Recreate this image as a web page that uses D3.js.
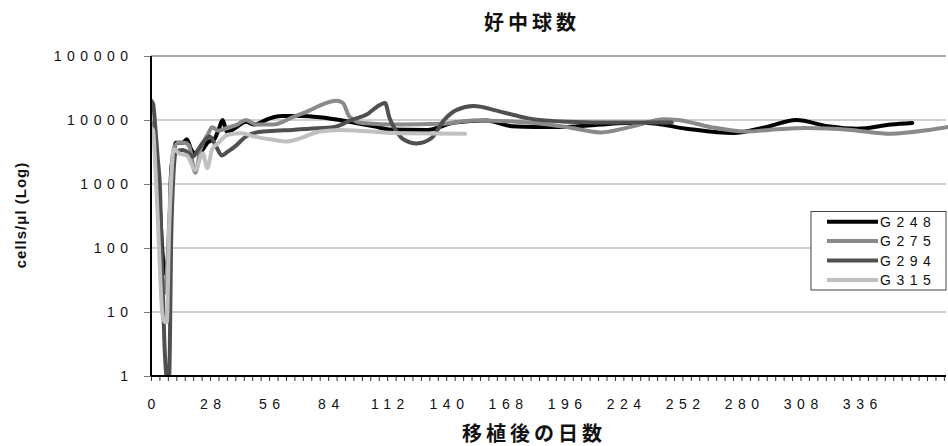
<!DOCTYPE html>
<html>
<head>
<meta charset="utf-8">
<script src="https://cdn.jsdelivr.net/npm/d3@7"></script>
<style>
  body { margin: 0; background: #fff; }
  .num { font-family: "Liberation Sans", Arial, sans-serif; font-size: 14px; letter-spacing: 5.5px; fill: #111; }
  .jpTitle { font-family: "Noto Sans CJK JP", sans-serif; font-size: 20px; font-weight: bold; letter-spacing: 4px; fill: #111; }
  .axisText { font-family: "Liberation Sans", Arial, sans-serif; font-size: 15px; font-weight: bold; letter-spacing: 1px; fill: #111; }
</style>
</head>
<body>
<div class="chart"></div>
<script>
// chart values
var seriesNames = ["G248", "G275", "G294", "G315"];
var seriesColors = ["#000000", "#8a8a8a", "#505050", "#c0c0c0"];

var daysG248 = [0, 2, 4, 5.5, 6.5, 8.5, 9.5, 10.7, 11.8, 15, 17, 19, 21, 24, 27, 30, 32, 34, 36, 40, 45, 49, 56, 62, 71, 80, 94, 107, 113, 131, 144, 159, 171, 182, 197, 213, 225, 235, 254, 276, 292, 306, 321, 335, 351, 361];
var cellsG248 = [9000, 5000, 600, 80, 40, 100, 1500, 3000, 4400, 4400, 5000, 3500, 3000, 3300, 4500, 5000, 7000, 10000, 6500, 7500, 9400, 8500, 10500, 11500, 11500, 11000, 9400, 7800, 7100, 7000, 9100, 9800, 8000, 7800, 7800, 8500, 9000, 9000, 7300, 6250, 7800, 10000, 8000, 7300, 8500, 9000];

var daysG275 = [0, 2, 4, 5.5, 6.5, 8.5, 9.5, 10.7, 13, 16, 18, 21, 23.5, 27, 29, 32, 36, 41, 45, 50, 58, 67, 75, 80, 88, 91, 94, 100, 118, 137, 153, 169, 182, 197, 213, 223, 230, 243, 250, 265, 282, 293, 311, 332, 351, 369, 378];
var cellsG275 = [9000, 4000, 300, 25, 20, 200, 1200, 3500, 4400, 4400, 4000, 1500, 3500, 6000, 7700, 6800, 7500, 8500, 10000, 8500, 8500, 11000, 14000, 16800, 19900, 18500, 11400, 9000, 8500, 8700, 9800, 9600, 9000, 7800, 6400, 7200, 8200, 10300, 10000, 7800, 6600, 7000, 7500, 7000, 6100, 7000, 7800];

var daysG294 = [0, 1, 2, 3.2, 4.3, 5.3, 6.4, 7.5, 8.6, 9.6, 10.7, 11.8, 15, 17, 20, 22.5, 24.6, 27.8, 31, 33.5, 36.4, 39.6, 45, 51, 59, 67, 75, 87, 95, 103, 107, 111, 113, 116, 120, 126, 133, 139, 145, 153, 166, 179, 197, 223, 247];
var cellsG294 = [20000, 18000, 8000, 2500, 800, 40, 3, 1, 1, 150, 1500, 3200, 3400, 3200, 2700, 3500, 4400, 5500, 3800, 2800, 3200, 3800, 5500, 6500, 6800, 7000, 7300, 7800, 10000, 12600, 16000, 18500, 11000, 7000, 4900, 4300, 5200, 10000, 14400, 16500, 13400, 10600, 9400, 9100, 9100];

var daysG315 = [0, 1, 2, 3.2, 4.3, 5.3, 6.4, 7.5, 8.6, 9.6, 10.7, 13.4, 17, 21, 24.6, 26.7, 29, 32, 36.4, 43, 49, 58, 64, 71, 80, 90, 118, 149];
var cellsG315 = [7500, 7000, 2000, 300, 40, 10, 7, 7, 200, 1200, 3500, 3000, 2800, 1650, 3000, 1770, 3500, 4400, 5900, 6200, 5500, 4900, 4600, 5200, 6600, 7000, 6200, 6100];

var xTickLabels = [0, 28, 56, 84, 112, 140, 168, 196, 224, 252, 280, 308, 336];
var yTickLabels = [1, 10, 100, 1000, 10000, 100000];

var allDays = [daysG248, daysG275, daysG294, daysG315];
var allCells = [cellsG248, cellsG275, cellsG294, cellsG315];

// SVG wrapper dimensions
var svgWidth = 948;
var svgHeight = 446;

var margin = {
    top: 56,
    bottom: 70,
    right: 2,
    left: 151
};

var chartHeight = svgHeight - margin.top - margin.bottom;
var chartWidth = svgWidth - margin.left - margin.right;

var svg = d3.select(".chart")
    .append("svg")
    .attr("width", svgWidth)
    .attr("height", svgHeight);

var chartGroup = svg.append("g")
    .attr("transform", `translate(${margin.left}, ${margin.top})`);

// scales
var xScale = d3.scaleLinear()
    .domain([0, 377])
    .range([0, chartWidth]);

var yScale = d3.scaleLog()
    .domain([1, 100000])
    .range([chartHeight, 0]);

// horizontal gridlines
chartGroup.selectAll(".grid")
    .data(yTickLabels.slice(1))
    .enter()
    .append("line")
    .attr("x1", 0)
    .attr("x2", chartWidth)
    .attr("y1", d => yScale(d))
    .attr("y2", d => yScale(d))
    .attr("stroke", d => d === 100000 ? "#8c8c8c" : "#a0a0a0")
    .attr("stroke-width", d => d === 100000 ? 1.6 : 1.2);

// axes
var yAxis = d3.axisLeft(yScale)
    .tickValues(yTickLabels)
    .tickFormat(d3.format("d"))
    .tickSize(7)
    .tickSizeOuter(0)
    .tickPadding(10.5);

var yAxisGroup = chartGroup.append("g").call(yAxis);
yAxisGroup.select(".domain").remove();
yAxisGroup.selectAll("line").attr("stroke", "#777");
yAxisGroup.selectAll("text").attr("class", "num").attr("fill", null);

var xAxis = d3.axisBottom(xScale)
    .tickValues(d3.range(0, 377, 4))
    .tickFormat(d => xTickLabels.indexOf(d) >= 0 ? d : "")
    .tickSize(5)
    .tickSizeOuter(0)
    .tickPadding(18);

var xAxisGroup = chartGroup.append("g")
    .attr("transform", `translate(0, ${chartHeight})`)
    .call(xAxis);
xAxisGroup.select(".domain").remove();
xAxisGroup.selectAll("line").attr("stroke", "#333");
xAxisGroup.selectAll("text").attr("class", "num").attr("fill", null).attr("dx", 2.75);

// lines, clipped to the plot
svg.append("clipPath")
    .attr("id", "plotClip")
    .append("rect")
    .attr("x", 0)
    .attr("y", -5)
    .attr("width", chartWidth + 2)
    .attr("height", chartHeight + 5);

var lineGen = d3.line()
    .x(d => xScale(d[0]))
    .y(d => yScale(d[1]))
    .curve(d3.curveMonotoneX);

var linesGroup = chartGroup.append("g").attr("clip-path", "url(#plotClip)");

seriesNames.forEach(function(name, i) {
    var pts = d3.zip(allDays[i], allCells[i]);
    linesGroup.append("path")
        .datum(pts)
        .attr("d", lineGen)
        .attr("fill", "none")
        .attr("stroke", seriesColors[i])
        .attr("stroke-width", 4)
        .attr("stroke-linejoin", "round")
        .attr("stroke-linecap", "round");
});

// axis lines
chartGroup.append("line")
    .attr("x1", 0).attr("x2", 0)
    .attr("y1", 0).attr("y2", chartHeight)
    .attr("stroke", "#000").attr("stroke-width", 2);
chartGroup.append("line")
    .attr("x1", 0).attr("x2", chartWidth)
    .attr("y1", chartHeight).attr("y2", chartHeight)
    .attr("stroke", "#000").attr("stroke-width", 2);

// legend
var legend = svg.append("g").attr("transform", "translate(811, 211.5)");
legend.append("rect")
    .attr("width", 135)
    .attr("height", 78.5)
    .attr("fill", "#fff")
    .attr("stroke", "#444");

var legendRows = legend.selectAll(".row")
    .data(seriesNames)
    .enter()
    .append("g")
    .attr("transform", (d, i) => `translate(0, ${10.2 + i * 19.4})`);

legendRows.append("line")
    .attr("x1", 16).attr("x2", 67)
    .attr("stroke", (d, i) => seriesColors[i])
    .attr("stroke-width", 4);

legendRows.append("text")
    .attr("class", "num")
    .attr("x", 69)
    .attr("y", 5)
    .attr("letter-spacing", 5)
    .text(d => d);

// titles
svg.append("text")
    .attr("class", "jpTitle")
    .attr("x", 532)
    .attr("y", 30)
    .attr("text-anchor", "middle")
    .text("好中球数");

svg.append("text")
    .attr("class", "jpTitle")
    .attr("x", 534)
    .attr("y", 441)
    .attr("text-anchor", "middle")
    .text("移植後の日数");

svg.append("text")
    .attr("class", "axisText")
    .attr("transform", "rotate(-90)")
    .attr("x", -215)
    .attr("y", 26)
    .attr("text-anchor", "middle")
    .text("cells/μl (Log)");
</script>
</body>
</html>
